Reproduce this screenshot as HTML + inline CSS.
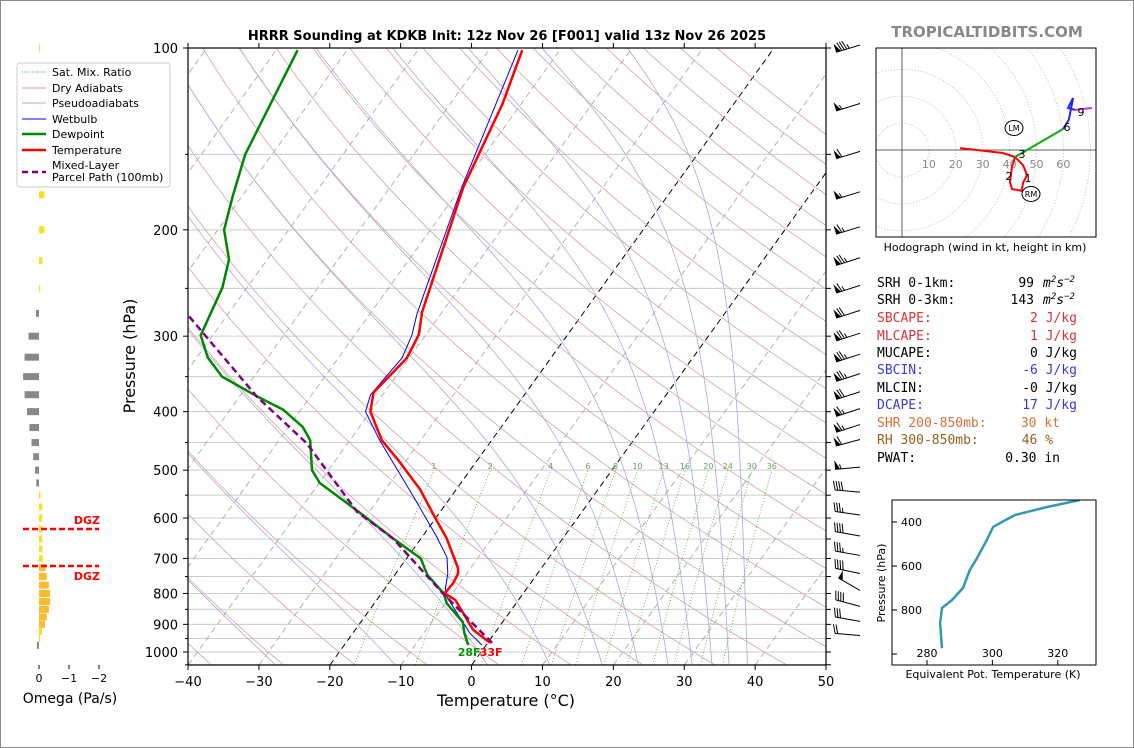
<!DOCTYPE html>
<html><head><meta charset="utf-8"><style>
html,body{margin:0;padding:0;background:#fff;}
svg{display:block;font-family:"DejaVu Sans","Liberation Sans",sans-serif;}
.mono{font-family:"DejaVu Sans Mono","Liberation Mono",monospace;font-size:13px;}
</style></head><body>
<svg id="chart" width="1134" height="748" viewBox="0 0 1134 748" xmlns="http://www.w3.org/2000/svg">
<defs>
<clipPath id="plotclip"><rect x="188" y="48" width="638" height="617"/></clipPath>
<clipPath id="hodoclip"><rect x="876" y="48" width="220" height="189"/></clipPath>
<clipPath id="theclip"><rect x="892" y="500" width="204" height="165"/></clipPath>
</defs>
<rect x="0.5" y="0.5" width="1133" height="747" fill="#fff" stroke="#888"/>
<text x="507" y="40" text-anchor="middle" font-size="13" font-weight="bold">HRRR Sounding at KDKB Init: 12z Nov 26 [F001] valid 13z Nov 26 2025</text>
<text x="987" y="37" text-anchor="middle" font-size="15" font-weight="bold" fill="#888">TROPICALTIDBITS.COM</text>
<g id="bg" clip-path="url(#plotclip)"></g>
<g id="prof" clip-path="url(#plotclip)"></g>
<rect x="188" y="48" width="638" height="617" fill="none" stroke="#000" stroke-width="1.2"/>
<g id="axes"></g>
<text x="135" y="356" transform="rotate(-90 135 356)" text-anchor="middle" font-size="16">Pressure (hPa)</text>
<text x="506" y="706" text-anchor="middle" font-size="16">Temperature (°C)</text>
<g id="barbs"></g>
<g id="omega"></g>
<text x="70" y="703" text-anchor="middle" font-size="14">Omega (Pa/s)</text>
<g>
<rect x="17" y="63" width="153" height="124" rx="3" fill="#fff" fill-opacity="0.9" stroke="#ccc"/>
<line x1="22" y1="72" x2="46" y2="72" stroke="#3a3" stroke-dasharray="1,1.5"/>
<text x="52" y="76" font-size="11">Sat. Mix. Ratio</text>
<line x1="22" y1="88" x2="46" y2="88" stroke="#d9a0a0"/>
<text x="52" y="92" font-size="11">Dry Adiabats</text>
<line x1="22" y1="103" x2="46" y2="103" stroke="#a8a8e0"/>
<text x="52" y="107" font-size="11">Pseudoadiabats</text>
<line x1="22" y1="119" x2="46" y2="119" stroke="#00f"/>
<text x="52" y="123" font-size="11">Wetbulb</text>
<line x1="22" y1="134" x2="46" y2="134" stroke="#080" stroke-width="2.5"/>
<text x="52" y="138" font-size="11">Dewpoint</text>
<line x1="22" y1="150" x2="46" y2="150" stroke="#f00" stroke-width="2.5"/>
<text x="52" y="154" font-size="11">Temperature</text>
<line x1="22" y1="172" x2="46" y2="172" stroke="#800080" stroke-width="2.5" stroke-dasharray="6,4"/>
<text x="52" y="169" font-size="11">Mixed-Layer</text>
<text x="52" y="181" font-size="11">Parcel Path (100mb)</text>
</g>
<g id="hodo"></g>
<text x="985" y="251" text-anchor="middle" font-size="11">Hodograph (wind in kt, height in km)</text>
<g class="mono">
<text x="877" y="287">SRH 0-1km:</text><text x="1034" y="287" text-anchor="end">99</text><text x="1043" y="287" font-style="italic">m<tspan dy="-5" font-size="9">2</tspan><tspan dy="5">s</tspan><tspan dy="-5" font-size="9">−2</tspan></text>
<text x="877" y="304">SRH 0-3km:</text><text x="1034" y="304" text-anchor="end">143</text><text x="1043" y="304" font-style="italic">m<tspan dy="-5" font-size="9">2</tspan><tspan dy="5">s</tspan><tspan dy="-5" font-size="9">−2</tspan></text>
<text x="877" y="322" fill="#dd3333">SBCAPE:</text><text x="1077" y="322" text-anchor="end" fill="#dd3333">2 J/kg</text>
<text x="877" y="340" fill="#dd3333">MLCAPE:</text><text x="1077" y="340" text-anchor="end" fill="#dd3333">1 J/kg</text>
<text x="877" y="357">MUCAPE:</text><text x="1077" y="357" text-anchor="end">0 J/kg</text>
<text x="877" y="374" fill="#3a3ad6">SBCIN:</text><text x="1077" y="374" text-anchor="end" fill="#3a3ad6">-6 J/kg</text>
<text x="877" y="392">MLCIN:</text><text x="1077" y="392" text-anchor="end">-0 J/kg</text>
<text x="877" y="409" fill="#3a3ad6">DCAPE:</text><text x="1077" y="409" text-anchor="end" fill="#3a3ad6">17 J/kg</text>
<text x="877" y="427" fill="#d9703a">SHR 200-850mb:</text><text x="1060" y="427" text-anchor="end" fill="#d9703a">30 kt</text>
<text x="877" y="444" fill="#9a5e1a">RH 300-850mb:</text><text x="1053" y="444" text-anchor="end" fill="#9a5e1a">46 %</text>
<text x="877" y="462">PWAT:</text><text x="1060" y="462" text-anchor="end">0.30 in</text>
</g>
<g id="thetae"></g>
<text x="885" y="583" transform="rotate(-90 885 583)" text-anchor="middle" font-size="11">Pressure (hPa)</text>
<text x="993" y="678" text-anchor="middle" font-size="11">Equivalent Pot. Temperature (K)</text>
</svg>
<script>
// ---- data ----
const tempP = [966, 919, 820, 800, 769, 741, 726, 648, 598, 539, 486, 446, 400, 372, 326, 298, 274, 170, 124, 100.8];
const tempC = [0.4, -3.35, -8.9, -11.05, -10.9, -11.2, -11.76, -16.4, -20.2, -25.0, -30.6, -35.5, -40.0, -41.5, -40.3, -41.0, -42.8, -49.7, -52.6, -55.3];
const dewP = [974, 929, 892, 831, 800, 745, 700, 648, 586, 525, 500, 446, 424, 397, 378, 350, 325, 299, 249, 224, 200, 176, 150, 100.8];
const dewC = [-2.5, -4.3, -5.6, -9.75, -11.2, -15.4, -18.0, -24.0, -31.5, -39.9, -42.3, -45.6, -48.0, -52.5, -57.4, -64.5, -68.5, -71.7, -73.5, -75.4, -79.1, -81.3, -83.8, -87];
const wbP = [974, 929, 800, 741, 697, 645, 553, 446, 400, 375, 326, 299, 275, 170, 100.8];
const wbC = [-0.56, -3.58, -11.05, -12.66, -14.4, -17.9, -25.3, -35.8, -40.7, -41.7, -41.0, -41.9, -43.4, -49.9, -55.9];
const parcelP = [966, 800, 648, 586, 451, 378, 277];
const parcelC = [0.65, -11.3, -24.0, -31.7, -45.8, -57.5, -75.5];
const omegaP = [100,125,150,175,200,225,250,275,300,325,350,375,400,425,450,475,500,525,550,575,600,625,650,675,700,725,750,775,800,825,850,875,900,925,950,975];
const omegaV = [-0.01,-0.08,-0.13,-0.18,-0.18,-0.11,-0.04,0.1,0.35,0.48,0.53,0.48,0.40,0.32,0.25,0.19,0.13,0.09,-0.05,-0.11,-0.11,-0.11,-0.11,-0.11,-0.13,-0.22,-0.26,-0.33,-0.37,-0.37,-0.33,-0.26,-0.2,-0.1,-0.03,0.07];
const barbP = [100,125,150,175,200,225,250,275,300,325,350,375,400,425,450,500,550,600,650,700,750,800,850,900,950];
const barbSpd = [85,55,60,55,65,75,65,70,75,75,75,70,65,65,60,55,40,35,40,35,40,50,40,30,20];
const barbDir = [253,253,253,253,253,252,252,252,252,252,252,252,252,252,255,265,275,278,280,280,282,300,285,280,275];
const hodoU = [21.6, 37.5, 42, 45, 46.5, 45, 44.5, 40.9, 40.1, 40.9, 42, 59.9, 62, 63.6, 61.7, 64.3, 70.6];
const hodoV = [0.7, -1.1, -2.6, -5.6, -9.3, -12.3, -15.2, -14.5, -11.9, -6.3, -2.6, 7.8, 11.2, 19.3, 15.6, 14.9, 15.6];
const hodoH = [0, 0.3, 0.6, 0.8, 1, 1.4, 1.7, 2, 2.3, 2.7, 3, 6, 7, 8, 8.5, 9, 10];
const thetaeP = [973, 859, 791, 755, 700, 618, 564, 482, 423, 400, 368, 332, 300];
const thetaeK = [284.6, 284.0, 284.6, 287.6, 291.0, 293.1, 295.3, 298.3, 300.2, 302.9, 306.9, 316.7, 326.8];
const xTicks = [-40,-30,-20,-10,0,10,20,30,40,50];
const pTicks = [100,200,300,400,500,600,700,800,900,1000];
const mixRatios = [1,2,4,6,8,10,13,16,20,24,30,36];
const moistStart = [-50, -27.7, -10.8, 2.2, 11, 18.4, 23.5, 27.7, 31.1, 33.9, 36.3, 38.9];

// ---- helpers ----
const NS='http://www.w3.org/2000/svg';
function mk(tag, attrs, parent){const e=document.createElementNS(NS,tag);for(const k in attrs)e.setAttribute(k,attrs[k]);parent.appendChild(e);return e;}
const yP = p => 48 + 604*Math.log10(p/100);
const xT = (T,p) => 188 + (T+40)*7.089 + (665 - yP(p))*0.72;
const pts = arr => arr.map(a=>a[0].toFixed(1)+','+a[1].toFixed(1)).join(' ');
const bg=document.getElementById('bg'), prof=document.getElementById('prof'), axes=document.getElementById('axes');
const plevs=[]; for(let p=1050;p>=100;p-=5) plevs.push(p);

for(let p=100;p<=1050;p+=50){
  const l=mk('line',{x1:188,x2:826,y1:yP(p),y2:yP(p),stroke:'#ccc','stroke-width':1},bg);
  
  
}
for(let T=-130;T<=50;T+=10){
  const black=(T===-20||T===0);
  const l=mk('line',{x1:xT(T,1050),y1:665,x2:xT(T,100),y2:48,stroke:black?'#000':'#aaa','stroke-width':black?1:0.9,'stroke-dasharray':'6,4'},bg);
  
  
}
for(let th=-40;th<=200;th+=10){
  const thK=th+273.15;
  const a=plevs.map(p=>[xT(thK*Math.pow(p/1000,0.2857)-273.15,p),yP(p)]);
  const l=mk('polyline',{points:pts(a),fill:'none',stroke:'#d9a0a0','stroke-width':0.8},bg);
  
  
}
function dTdp(T,p){const Tc=T-273.15;const es=6.112*Math.exp(17.67*Tc/(Tc+243.5));const rs=0.622*es/Math.max(p-es,1);
  return (1/p)*(287.04*T+2.501e6*rs)/(1005.7+2.501e6*2.501e6*rs*0.622/(287.04*T*T));}
function moist(T0){const res=[];let T=T0+273.15;res.push([1050,T]);
  for(let p=1050;p>100;p-=5){const k1=dTdp(T,p);const k2=dTdp(T-k1*2.5,p-2.5);T-=k2*5;res.push([p-5,T]);}
  return res;}
moistStart.forEach(t0=>{
  const a=moist(t0).map(d=>[xT(d[1]-273.15,d[0]),yP(d[0])]);
  const l=mk('polyline',{points:pts(a),fill:'none',stroke:'#a8a8e0','stroke-width':0.8},bg);
  
  
});
mixRatios.forEach(w=>{
  const a=[];for(let p=1050;p>=500;p-=10){const e=w*p/(622+w);const L=Math.log(e/6.112);const Td=243.5*L/(17.67-L);a.push([xT(Td,p),yP(p)]);}
  const l=mk('polyline',{points:pts(a),fill:'none',stroke:'#4a4','stroke-width':0.8,'stroke-dasharray':'1,2'},bg);
  
  
  const t=mk('text',{x:a[a.length-1][0],y:469,'text-anchor':'middle','font-size':8,fill:'#5a5'},bg);
  t.textContent=w;
  
  
});
function prl(P,C,stroke,w,dash){
  const a=P.map((p,i)=>[xT(C[i],p),yP(p)]);
  const at={points:pts(a),fill:'none',stroke:stroke,'stroke-width':w,'stroke-linejoin':'round'};
  if(dash) at['stroke-dasharray']=dash;
  return mk('polyline',at,prof);
}
let l;
l=prl(wbP,wbC,'#00f',1,null);


l=prl(dewP,dewC,'#080',2.5,null);


l=prl(tempP,tempC,'#f00',2.5,null);


l=prl(parcelP,parcelC,'#800080',2.5,'7,4');


const dF=Math.round(dewC[0]*9/5+32), tF=Math.round(tempC[0]*9/5+32);
let tx=mk('text',{x:xT(dewC[0],dewP[0])+1,y:yP(dewP[0])+11,'text-anchor':'middle','font-size':11,'font-weight':'bold',fill:'#090'},axes);
tx.textContent=dF+'F';


tx=mk('text',{x:xT(dewC[0],dewP[0])+23,y:yP(dewP[0])+11,'text-anchor':'middle','font-size':11,'font-weight':'bold',fill:'#f00'},axes);
tx.textContent=tF+'F';



xTicks.forEach(T=>{
  const x=188+(T+40)*7.089;
  let t=mk('line',{x1:x,x2:x,y1:665,y2:670,stroke:'#000'},axes);
  
  
  t=mk('line',{x1:x,x2:x,y1:48,y2:43,stroke:'#000'},axes);
  
  
  const s=mk('text',{x:x,y:686,'text-anchor':'middle','font-size':13},axes);
  s.textContent=(T<0?'\u2212':'')+Math.abs(T);
  
  
});
for(let p=100;p<=1050;p+=50){
  const y=yP(p);const major=pTicks.includes(p);
  let t=mk('line',{x1:188,x2:major?183:185,y1:y,y2:y,stroke:'#000'},axes);
  
  
  t=mk('line',{x1:826,x2:831,y1:y,y2:y,stroke:'#000'},axes);
  
  
  if(major){const s=mk('text',{x:178,y:y+5,'text-anchor':'end','font-size':13},axes);
    s.textContent=p;
    
    }
}
const bb=document.getElementById('barbs');
barbP.forEach((p,i)=>{
  const g=mk('g',{},bb);
  
  
  const d=barbDir[i]*Math.PI/180;const sx=Math.sin(d), sy=-Math.cos(d);
  const x0=860,y0=yP(p)-3, L=25;
  const tipx=x0+sx*L, tipy=y0+sy*L;
  const px=-sy, py=sx;
  mk('line',{x1:x0,y1:y0,x2:tipx,y2:tipy,stroke:'#000','stroke-width':1},g);
  let s=Math.round(barbSpd[i]/5)*5;let pos=0;
  const P=(a,o,b)=>[tipx-sx*a+px*o+sx*b, tipy-sy*a+py*o+sy*b];
  while(s>=50){const A=P(pos,0,0),B=P(pos+5,0,0),C=P(pos,9,0);
    mk('polygon',{points:pts([A,B,C]),fill:'#000'},g);pos+=6;s-=50;}
  while(s>=10){const A=P(pos,0,0),B=P(pos,9,2.5);mk('line',{x1:A[0],y1:A[1],x2:B[0],y2:B[1],stroke:'#000','stroke-width':1},g);pos+=2.6;s-=10;}
  if(s>=5){if(pos===0)pos=2.6;const A=P(pos,0,0),B=P(pos,4.5,1.2);mk('line',{x1:A[0],y1:A[1],x2:B[0],y2:B[1],stroke:'#000','stroke-width':1},g);}
});
const om=document.getElementById('omega');
omegaP.forEach((p,i)=>{
  const v=omegaV[i];const y=yP(p);const w=Math.abs(v)*30;
  const x=v>0?39-w:39;
  const col=v>0?'#888':(v<=-0.19?'#fdbb2d':'#f9e21d');
  const r=mk('rect',{x:x,y:y-3.5,width:Math.max(w,1),height:7,fill:col},om);
  
  
});
[[0,'0'],[-1,'\u22121'],[-2,'\u22122']].forEach(a=>{
  const x=39-a[0]*30;
  let t=mk('line',{x1:x,x2:x,y1:665,y2:669,stroke:'#000'},om);
  
  
  const s=mk('text',{x:x,y:682,'text-anchor':'middle','font-size':11},om);
  s.textContent=a[1];
  
  
});
[[529,'DGZ',524],[566,'DGZ',580]].forEach(a=>{
  const d=mk('line',{x1:23,x2:99,y1:a[0],y2:a[0],stroke:'#f00','stroke-width':2.5,'stroke-dasharray':'6,3'},om);
  
  
  const s=mk('text',{x:100,y:a[2],'text-anchor':'end','font-size':11,'font-weight':'bold',fill:'#f00'},om);
  s.textContent=a[1];
  
  
});
const hd=document.getElementById('hodo');
const HX=902,HY=150,HS=2.69;
const hc=mk('g',{'clip-path':'url(#hodoclip)'},hd);
for(let k=1;k<=9;k++){
  const c=mk('circle',{cx:HX,cy:HY,r:k*10*HS,fill:'none',stroke:'#bbb','stroke-dasharray':'1,2','stroke-width':0.9},hc);
  
  
}
l=mk('line',{x1:HX,x2:HX,y1:48,y2:237,stroke:'#333','stroke-width':0.8},hc);


l=mk('line',{x1:876,x2:1096,y1:HY,y2:HY,stroke:'#333','stroke-width':0.8},hc);


for(let k=1;k<=6;k++){
  const s=mk('text',{x:HX+k*10*HS,y:HY+18,'text-anchor':'middle','font-size':11,fill:'#888'},hc);
  s.textContent=k*10;
  
  
}
const segs=[[0,3,'#f00'],[3,6,'#1a1'],[6,9,'#22f'],[9,99,'#c3c']];
segs.forEach(sg=>{
  const a=[];hodoH.forEach((h,i)=>{if(h>=sg[0]&&h<=sg[1])a.push([HX+hodoU[i]*HS,HY-hodoV[i]*HS]);});
  if(a.length>1){const pl=mk('polyline',{points:pts(a),fill:'none',stroke:sg[2],'stroke-width':2},hc);
    
    }
});
[['1',1028,182],['2',1009,180],['3',1022,158],['6',1067,131],['9',1081,116]].forEach(a=>{
  const s=mk('text',{x:a[1],y:a[2],'text-anchor':'middle','font-size':11},hc);
  s.textContent=a[0];
  
  
});
[['LM',1014,128],['RM',1031,194]].forEach(a=>{
  const e=mk('ellipse',{cx:a[1],cy:a[2],rx:9,ry:7.5,fill:'#fff',stroke:'#000','stroke-width':1},hc);
  
  
  const s=mk('text',{x:a[1],y:a[2]+3,'text-anchor':'middle','font-size':8},hc);
  s.textContent=a[0];
  
  
});
l=mk('rect',{x:876,y:48,width:220,height:189,fill:'none',stroke:'#000'},hd);


const te=document.getElementById('thetae');
const tX=k=>927+(k-280)*3.27, tY=p=>522+(p-400)*0.22;
const tc=mk('g',{'clip-path':'url(#theclip)'},te);
l=mk('polyline',{points:pts(thetaeP.map((p,i)=>[tX(thetaeK[i]),tY(p)])),fill:'none',stroke:'#3399b3','stroke-width':2.5,'stroke-linejoin':'round'},tc);


l=mk('rect',{x:892,y:500,width:204,height:165,fill:'none',stroke:'#000'},te);


[400,600,800,1000].forEach(p=>{
  const t=mk('line',{x1:892,x2:897,y1:tY(p),y2:tY(p),stroke:'#000'},te);
  
  
  if(p<1000){const s=mk('text',{x:922,y:tY(p)+4,'text-anchor':'end','font-size':11},te);
    s.textContent=p;
    
    }
});
[280,300,320].forEach(k=>{
  const t=mk('line',{x1:tX(k),x2:tX(k),y1:665,y2:660,stroke:'#000'},te);
  
  
  const s=mk('text',{x:tX(k),y:657,'text-anchor':'middle','font-size':11},te);
  s.textContent=k;
  
  
});
</script>
</body></html>
